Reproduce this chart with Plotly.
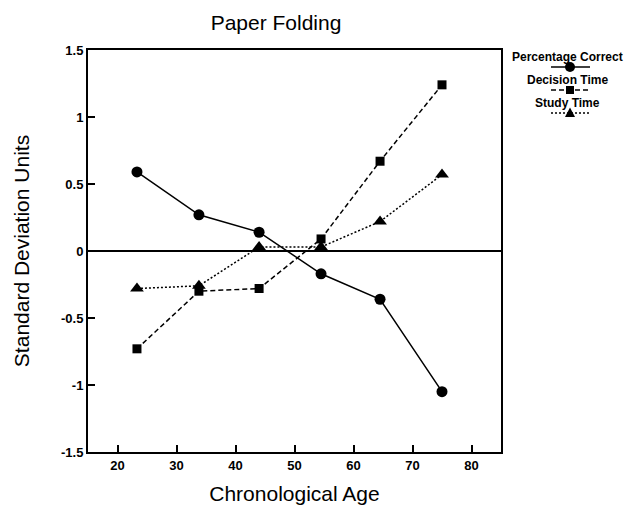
import plotly.graph_objects as go

ages = [23.3, 33.8, 44.0, 54.5, 64.5, 75.0]
pct_correct = [0.59, 0.27, 0.14, -0.17, -0.36, -1.05]
decision_time = [-0.73, -0.30, -0.28, 0.09, 0.67, 1.24]
study_time = [-0.28, -0.26, 0.03, 0.03, 0.22, 0.57]

x_ticks = [20, 30, 40, 50, 60, 70, 80]
y_ticks = [-1.5, -1, -0.5, 0, 0.5, 1, 1.5]
y_tick_text = ["-1.5", "-1", "-0.5", "0", "0.5", "1", "1.5"]

series = [
    ("Percentage Correct", pct_correct, "solid", "circle", 11),
    ("Decision Time", decision_time, "5px,3px", "square", 9),
    ("Study Time", study_time, "2px,2px", "triangle-up", 12),
]

FONT = "Liberation Sans, Arial, sans-serif"
OFF = 8  # page body margin
FW, FH = 635 - OFF, 505 - OFF
L, R, T, B = 88 - OFF, 134, 50 - OFF, 53
W, H = FW - L - R, FH - T - B

def px(xp):  # page pixel x -> paper
    return (xp - OFF - L) / W
def py(yp):  # page pixel y -> paper
    return (FH - B - (yp - OFF)) / H

fig = go.Figure()
for name, vals, dash, sym, sz in series:
    fig.add_trace(go.Scatter(
        x=ages, y=vals, mode="lines+markers", name=name,
        line=dict(color="black", width=1.5, dash=dash),
        marker=dict(symbol=sym, size=sz, color="black"),
        showlegend=False, cliponaxis=False,
    ))

# zero line
fig.add_shape(type="line", xref="paper", yref="y", x0=0, x1=1, y0=0, y1=0,
              line=dict(color="black", width=2))

# custom legend (text above a line sample with marker)
legend_rows = [(57, 67), (80, 90), (103, 113)]
for (name, vals, dash, sym, sz), (ty, sy) in zip(series, legend_rows):
    fig.add_annotation(text="<b>" + name + "</b>", xref="paper", yref="paper",
                       x=px(567), y=py(ty), showarrow=False,
                       font=dict(family=FONT, size=12, color="black"),
                       xanchor="center", yanchor="middle", borderpad=0)
    fig.add_shape(type="line", xref="paper", yref="paper",
                  x0=px(551), x1=px(590), y0=py(sy), y1=py(sy),
                  line=dict(color="black", width=1.3, dash=dash))
    cx, cy = px(570), py(sy)
    dx, dy = 5 / W, 5 / H
    if sym == "circle":
        fig.add_shape(type="circle", xref="paper", yref="paper",
                      x0=cx - dx, x1=cx + dx, y0=cy - dy, y1=cy + dy,
                      fillcolor="black", line=dict(color="black", width=0))
    elif sym == "square":
        fig.add_shape(type="rect", xref="paper", yref="paper",
                      x0=cx - 0.8 * dx, x1=cx + 0.8 * dx,
                      y0=cy - 0.8 * dy, y1=cy + 0.8 * dy,
                      fillcolor="black", line=dict(color="black", width=0))
    else:
        fig.add_shape(type="path", xref="paper", yref="paper",
                      path=f"M {cx - dx} {cy - 0.8 * dy} L {cx + dx} {cy - 0.8 * dy} L {cx} {cy + 1.1 * dy} Z",
                      fillcolor="black", line=dict(color="black", width=0))

fig.update_layout(
    width=FW, height=FH,
    margin=dict(l=L, r=R, t=T, b=B, autoexpand=False),
    paper_bgcolor="white", plot_bgcolor="white",
    font=dict(family=FONT, color="black"),
    title=dict(text="Paper Folding", xref="paper", x=px(276), xanchor="center",
               y=1 - (23 - OFF) / FH, yanchor="middle",
               font=dict(family=FONT, size=21, color="black")),
    xaxis=dict(range=[15, 85], tickvals=x_ticks, ticks="inside", ticklen=7,
               tickwidth=1.5, tickcolor="black", showline=True, linecolor="black",
               linewidth=2, mirror=True, showgrid=False, zeroline=False,
               automargin=False,
               tickfont=dict(family=FONT, size=13, weight="bold"),
               title=dict(text="Chronological Age", standoff=16,
                          font=dict(family=FONT, size=21))),
    yaxis=dict(range=[-1.5, 1.5], tickvals=y_ticks, ticktext=y_tick_text,
               ticks="inside", ticklen=7, tickwidth=1.5, tickcolor="black",
               showline=True, linecolor="black", linewidth=2, mirror=True,
               showgrid=False, zeroline=False, automargin=False,
               tickfont=dict(family=FONT, size=13, weight="bold"),
               title=dict(text="Standard Deviation Units", standoff=26,
                          font=dict(family=FONT, size=21))),
)

fig.write_html("out.html")
